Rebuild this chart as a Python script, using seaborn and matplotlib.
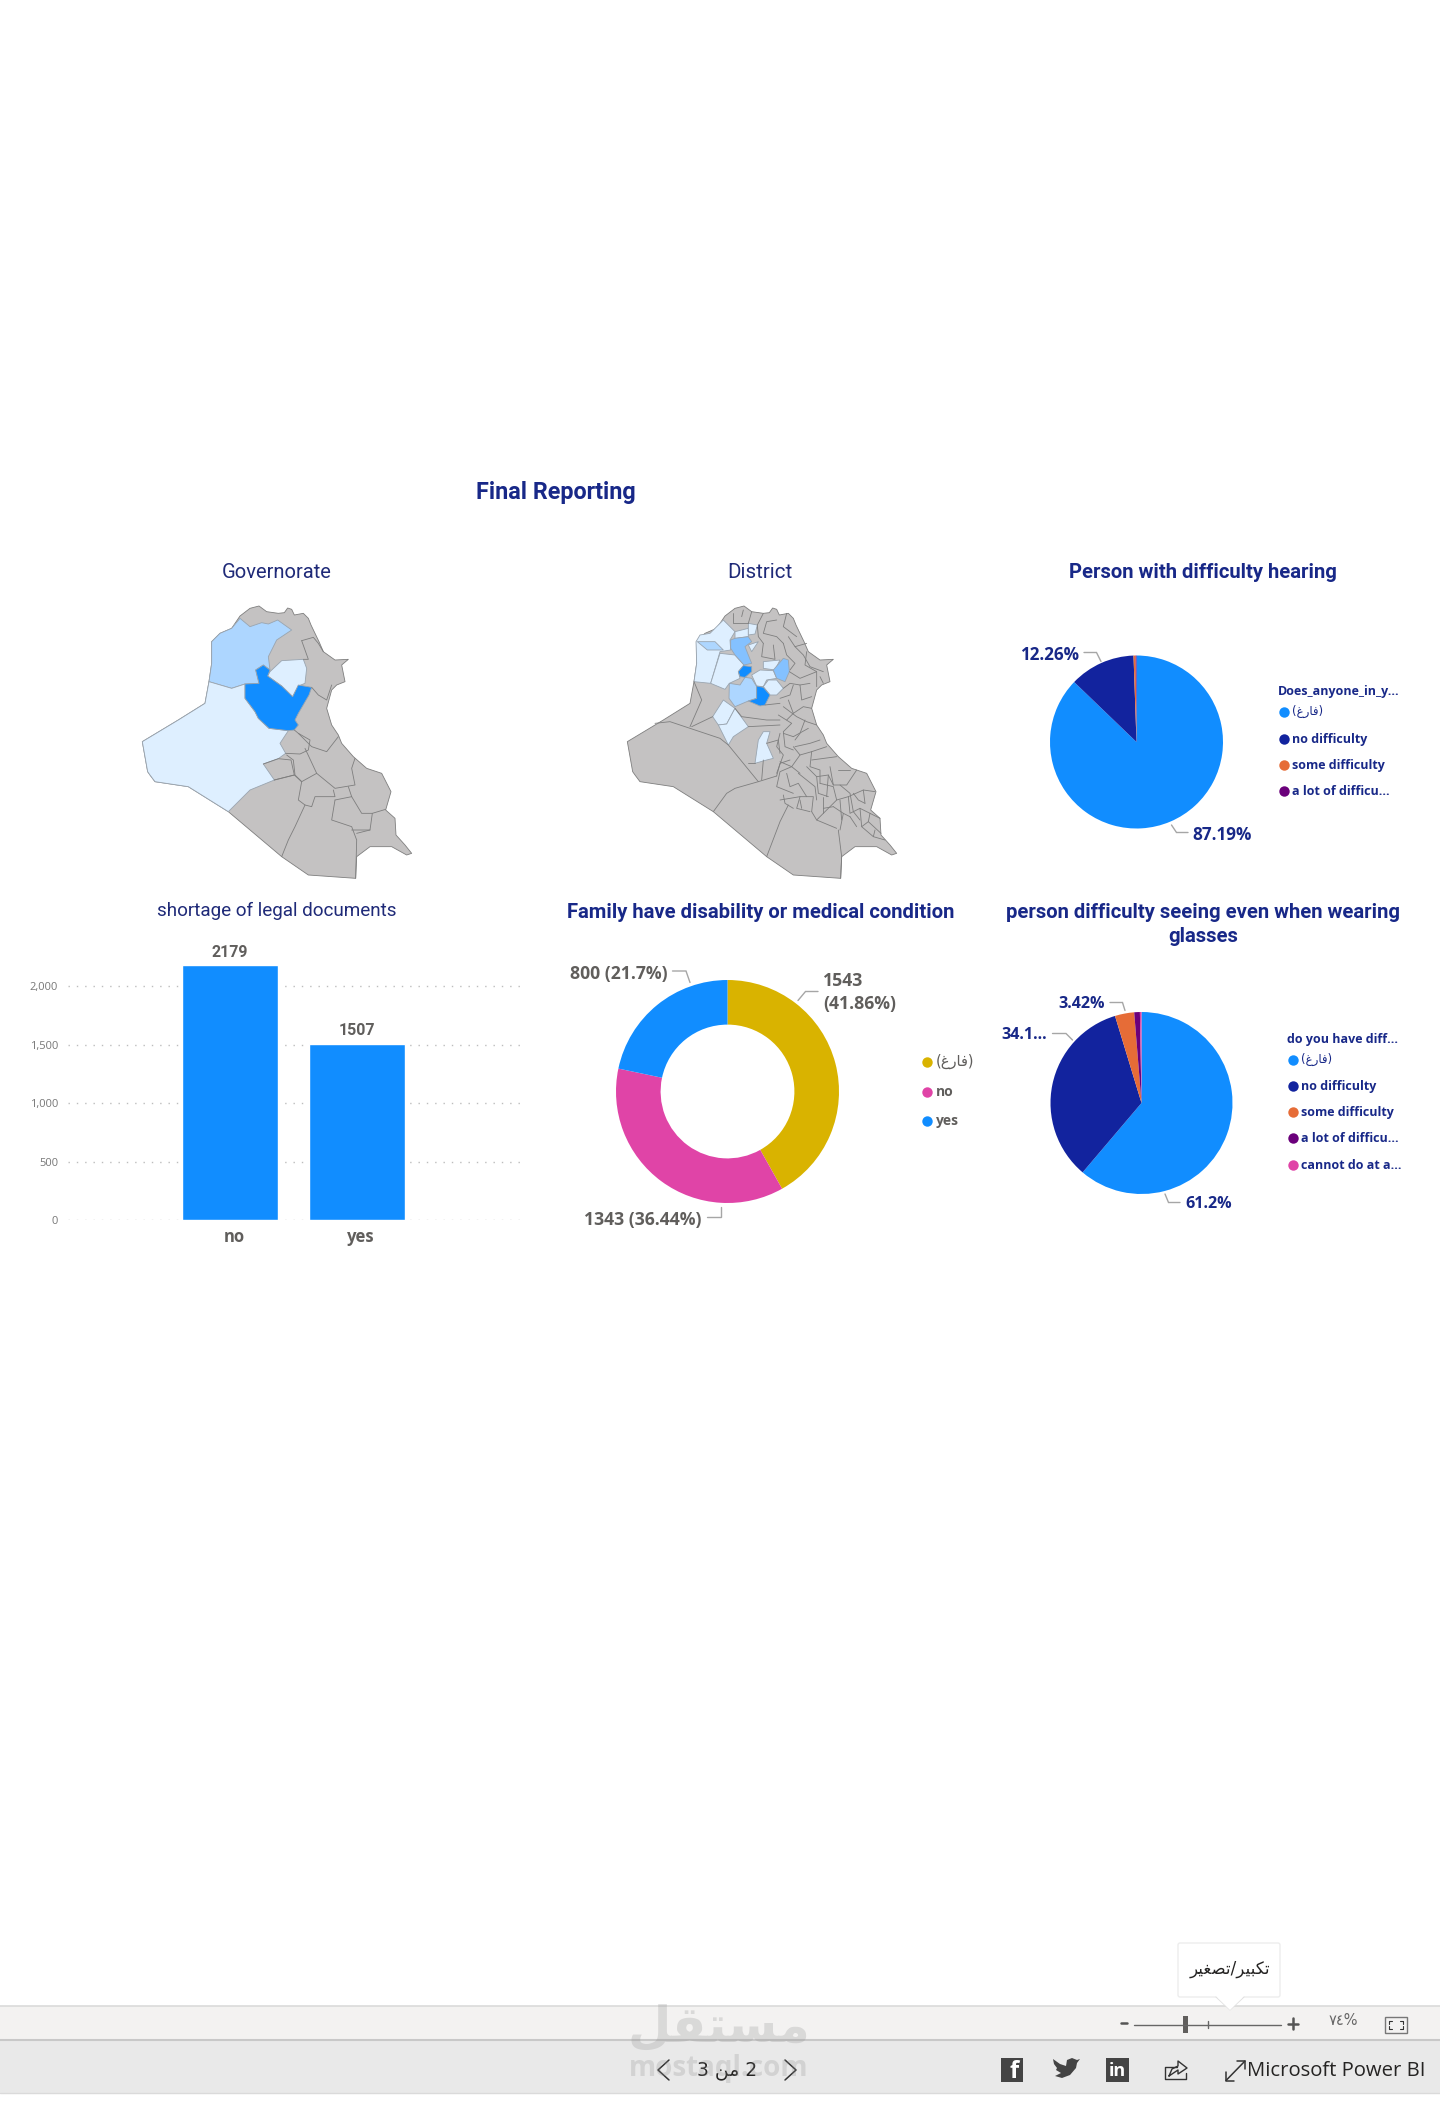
import matplotlib
matplotlib.use("Agg")
import matplotlib.pyplot as plt
from matplotlib.patches import Rectangle, FancyBboxPatch
from matplotlib.transforms import ScaledTranslation
import seaborn as sns

BLUE = '#118DFF'
NAVY = '#12239E'
TITLE_NAVY = '#182888'
ORANGE = '#E66C37'
PURPLE = '#6B007B'
PINK = '#E044A7'
GOLD = '#D9B300'
GREY_TXT = '#605E5C'
MAP_GREY = '#C4C2C2'
MAP_EDGE = '#7E7E7E'
TINT1 = '#DEEFFF'
TINT2 = '#ADD6FF'
TINT3 = '#84C1FF'

# arabic is written as shaped presentation forms, left to right, matplotlib does not shape
EMPTY_AR = '(\uFECD\uFEAD\uFE8E\uFED3)'
ZOOM_AR = '\uFEAE\uFEF4\uFED0\uFEBC\uFE97/\uFEAE\uFEF4\uFE92\uFEDC\uFE97'
PAGE_AR = '3 \uFEE6\uFEE3 2'
BRAND_AR = '\uFEDE\uFED8\uFE98\uFEB4\uFEE3'

# bar chart
doc_categories = ['no', 'yes']
doc_values = [2179, 1507]
doc_ticks = [0, 500, 1000, 1500, 2000]

# pies
hearing_labels = [EMPTY_AR, 'no difficulty', 'some difficulty', 'a lot of difficu...']
hearing_values = [87.19, 12.26, 0.4, 0.15]
hearing_colors = [BLUE, NAVY, ORANGE, PURPLE]

family_labels = [EMPTY_AR, 'no', 'yes']
family_values = [1543, 1343, 800]
family_colors = [GOLD, PINK, BLUE]

seeing_labels = [EMPTY_AR, 'no difficulty', 'some difficulty', 'a lot of difficu...', 'cannot do at a...']
seeing_values = [61.2, 34.1, 3.42, 1.0, 0.28]
seeing_colors = [BLUE, NAVY, ORANGE, PURPLE, PINK]

# map outlines (3x crop coordinates)
iraq_outline = [(315, 48), (345, 25), (372, 18), (395, 35), (430, 40), (448, 38), (458, 24), (470, 28), (478, 45),
                (505, 40), (520, 55), (528, 75), (540, 100), (552, 125), (565, 155), (600, 180), (640, 178), (620, 195),
                (630, 245), (605, 255), (590, 270), (575, 325), (590, 375), (610, 405), (620, 430), (655, 470),
                (695, 505), (740, 520), (768, 575), (752, 630), (780, 655), (783, 705), (810, 735), (830, 760),
                (815, 765), (770, 740), (705, 740), (665, 770), (662, 835), (520, 825), (440, 770), (280, 635),
                (160, 560), (60, 545), (45, 525), (38, 515), (22, 425), (130, 360), (210, 310), (222, 245), (230, 190),
                (230, 125), (255, 100), (290, 85)]

gov_regions = [
    (TINT2, [(230, 125), (255, 100), (290, 85), (315, 55), (345, 80), (380, 68), (400, 72), (428, 60), (470, 90),
             (425, 120), (400, 170), (405, 210), (385, 195), (362, 210), (372, 250), (330, 252), (290, 265), (222, 245),
             (230, 190)]),
    (TINT1, [(222, 245), (290, 265), (330, 252), (330, 295), (360, 335), (370, 355), (402, 385), (460, 392), (435, 430),
             (452, 460), (430, 476), (385, 492), (418, 540), (345, 570), (280, 635), (160, 560), (60, 545), (45, 525),
             (38, 515), (22, 425), (130, 360), (210, 310)]),
    (TINT1, [(405, 215), (440, 182), (505, 178), (515, 205), (510, 250), (490, 258), (473, 290), (440, 258), (398, 228)]),
    (BLUE, [(362, 210), (385, 195), (405, 210), (398, 228), (440, 258), (473, 290), (490, 255), (530, 262), (522, 285),
            (490, 340), (480, 360), (490, 375), (478, 390), (460, 392), (402, 385), (370, 355), (360, 335), (330, 295),
            (330, 252), (372, 250)]),
]
gov_lines = [
    [(500, 122), (535, 112), (550, 130), (565, 155)],
    [(500, 122), (520, 178), (505, 178)],
    [(530, 262), (550, 285), (575, 300), (590, 255)],
    [(478, 390), (490, 400), (525, 420), (520, 450), (495, 462), (452, 460)],
    [(490, 400), (530, 440), (575, 455), (610, 410)],
    [(510, 445), (545, 520), (600, 565), (660, 555), (650, 505), (660, 475)],
    [(455, 465), (475, 480), (480, 525), (500, 545), (545, 520)],
    [(385, 492), (430, 476), (468, 480), (478, 525), (418, 540)],
    [(418, 540), (478, 525), (500, 545), (490, 600), (510, 615), (480, 680), (460, 720), (440, 770)],
    [(510, 615), (530, 620), (540, 590), (600, 590), (595, 570)],
    [(600, 600), (590, 660), (650, 680), (665, 720), (662, 835)],
    [(650, 590), (680, 640), (712, 640), (705, 690), (650, 690)],
    [(712, 640), (752, 628)],
    [(640, 560), (650, 590), (600, 600)],
    [(705, 690), (665, 700)],
]

district_regions = [
    (TINT1, [(222, 245), (230, 190), (228, 125), (240, 105), (270, 100), (310, 60), (345, 95), (330, 120), (332, 150),
             (300, 155), (272, 250)]),
    (TINT2, [(232, 125), (285, 125), (310, 150), (262, 150)]),
    (TINT1, [(272, 250), (300, 160), (345, 165), (372, 195), (355, 215), (360, 235), (328, 250), (315, 268)]),
    (TINT1, [(345, 95), (385, 85), (385, 110), (345, 115)]),
    (TINT1, [(385, 70), (412, 75), (405, 102), (385, 105)]),
    (TINT1, [(385, 135), (415, 125), (395, 155)]),
    (TINT1, [(430, 185), (480, 180), (465, 210), (430, 205)]),
    (TINT1, [(395, 225), (420, 210), (460, 212), (470, 235), (440, 240), (430, 260), (410, 258)]),
    (TINT1, [(430, 260), (445, 240), (470, 240), (490, 265), (470, 285), (450, 285)]),
    (TINT1, [(278, 350), (310, 300), (345, 325), (320, 372), (295, 375)]),
    (TINT1, [(295, 375), (320, 372), (345, 325), (385, 380), (340, 410), (325, 435)]),
    (TINT1, [(405, 490), (415, 420), (430, 395), (450, 395), (440, 430), (460, 475), (440, 480)]),
    (TINT3, [(332, 120), (345, 115), (385, 110), (395, 125), (375, 140), (395, 190), (372, 195), (345, 165), (332, 145)]),
    (TINT3, [(460, 210), (490, 175), (505, 180), (508, 215), (495, 245), (470, 235)]),
    (TINT2, [(328, 250), (360, 255), (375, 232), (395, 235), (410, 260), (410, 295), (385, 303), (345, 320), (327, 295)]),
    (BLUE, [(355, 215), (370, 197), (395, 200), (395, 215), (375, 232), (360, 230)]),
    (BLUE, [(385, 303), (410, 295), (410, 258), (430, 262), (450, 285), (435, 315), (420, 318)]),
]
district_lines = [
    [(105, 370), (150, 365), (300, 415), (325, 435), (415, 545), (470, 528)],
    [(210, 380), (245, 300), (222, 245)], [(215, 380), (278, 350)],
    [(280, 635), (320, 580), (345, 565), (415, 545)], [(440, 770), (480, 665), (505, 615)],
    [(655, 690), (665, 770), (662, 835)], [(345, 325), (365, 350), (440, 360), (480, 360)],
    [(385, 380), (480, 375)], [(435, 315), (480, 310)], [(405, 490), (385, 490)], [(425, 540), (430, 480)],
    [(340, 40), (340, 70), (385, 70)], [(370, 30), (365, 50)], [(395, 35), (385, 70)],
    [(430, 40), (412, 75), (415, 110), (430, 130)], [(470, 60), (440, 65), (430, 100), (470, 110), (490, 130)],
    [(500, 40), (490, 80), (530, 110)], [(505, 110), (525, 140), (560, 130)],
    [(430, 130), (425, 170), (465, 178), (460, 135)], [(490, 130), (500, 165), (525, 190), (510, 210)],
    [(525, 140), (550, 165), (570, 200), (610, 215)], [(560, 155), (555, 195), (590, 215), (590, 260)],
    [(508, 215), (540, 235), (590, 215)], [(490, 265), (510, 250), (540, 255), (570, 250)],
    [(480, 295), (510, 285), (520, 255)], [(505, 300), (520, 340), (550, 320), (575, 325)],
    [(540, 255), (545, 300), (575, 290)], [(490, 320), (530, 350), (560, 365), (590, 375)],
    [(475, 345), (515, 370), (490, 395), (495, 440), (520, 450)], [(525, 440), (570, 430), (600, 420)],
    [(520, 410), (565, 385)], [(520, 440), (540, 465), (515, 500), (480, 485)],
    [(540, 465), (575, 455), (620, 440)], [(575, 480), (650, 470)], [(655, 510), (690, 510)],
    [(575, 455), (570, 500), (600, 510), (600, 550)], [(630, 500), (640, 555), (680, 555), (710, 510)],
    [(660, 555), (690, 580), (700, 635)], [(540, 520), (515, 500), (480, 515), (470, 560), (520, 580)],
    [(535, 520), (585, 560), (590, 600)], [(480, 600), (540, 590), (580, 590), (575, 635)],
    [(540, 600), (545, 625)], [(600, 550), (640, 560), (650, 600), (610, 640), (590, 660), (650, 685)],
    [(650, 600), (685, 590), (730, 570), (765, 575)], [(685, 590), (690, 640), (720, 625), (780, 655)],
    [(610, 625), (640, 620)], [(670, 640), (660, 690)], [(720, 625), (725, 680), (745, 665), (783, 700)],
    [(725, 680), (760, 710), (795, 720)], [(690, 650), (710, 680)], [(700, 580), (715, 600), (735, 610)],
    [(480, 400), (470, 440), (490, 465), (470, 520)], [(440, 430), (475, 420), (480, 460)],
    [(470, 528), (480, 490), (510, 480)], [(500, 520), (510, 560), (535, 550), (560, 590)],
    [(560, 500), (590, 530), (625, 525), (640, 555)], [(590, 530), (595, 580), (625, 590)], [(625, 525), (620, 590)],
    [(660, 600), (665, 660)], [(540, 590), (530, 625), (570, 635)], [(575, 635), (590, 660)], [(610, 590), (610, 640)],
    [(640, 620), (670, 640), (690, 650)], [(700, 635), (720, 660)], [(735, 610), (730, 570)], [(750, 640), (745, 665)],
    [(765, 690), (760, 710)], [(490, 585), (495, 610), (520, 625)], [(600, 230), (610, 250)], [(520, 340), (500, 360)],
    [(555, 360), (540, 400), (525, 420)], [(490, 400), (520, 410)],
]

sns.set_theme(style="white")
plt.rcParams['font.family'] = ['Roboto', 'DejaVu Sans']

W, H = 1440, 2126
fig = plt.figure(figsize=(W / 100, H / 100), dpi=100, facecolor='white')

# page axes in picture pixels, for the report furniture
page = fig.add_axes([0, 0, 1, 1])
page.set_xlim(0, W)
page.set_ylim(H, 0)
page.axis('off')


def px_axes(left, top, right, bottom):
    return fig.add_axes([left / W, 1 - bottom / H, (right - left) / W, (bottom - top) / H])


def txt(x, y, s, size=10, color=TITLE_NAVY, weight='normal', ha='center', va='center', family=None, **kw):
    page.text(x, y + 1.5, s, fontsize=size, color=color, fontweight=weight, ha=ha, va=va,
              family=family if family else ['Roboto', 'DejaVu Sans'], **kw)


def leader(points):
    page.plot([p[0] for p in points], [p[1] for p in points], color='#A6A6A6', lw=1, solid_joinstyle='miter')


def draw_map(x0, y0, regions, lines):
    conv = lambda pts: ([x0 + p[0] / 3 for p in pts], [y0 + p[1] / 3 for p in pts])
    xs, ys = conv(iraq_outline)
    page.fill(xs, ys, facecolor=MAP_GREY, edgecolor=MAP_EDGE, lw=0.6, joinstyle='round')
    for line in lines:
        xs, ys = conv(line)
        page.plot(xs, ys, color=MAP_EDGE, lw=0.6, solid_joinstyle='round')
    for col, pts in regions:
        xs, ys = conv(pts)
        page.fill(xs, ys, facecolor=col, edgecolor='#9AA5B0', lw=0.6, joinstyle='round')


def draw_pie(cx, cy, r, values, colors, hole=None):
    ax = px_axes(cx - r * 1.05, cy - r * 1.05, cx + r * 1.05, cy + r * 1.05)
    props = {'linewidth': 0}
    if hole:
        props['width'] = hole
    ax.pie(values, colors=colors, startangle=90, counterclock=False, radius=1, wedgeprops=props)
    ax.set_xlim(-1.05, 1.05)
    ax.set_ylim(-1.05, 1.05)


def draw_legend(title, x_mark, x_text, ys, labels, colors, txt_color, size=9, ar_size=8.5):
    for i, (y, lab, col) in enumerate(zip(ys, labels, colors)):
        page.plot([x_mark], [y], 'o', ms=7.5, color=col, mec='none')
        if lab == EMPTY_AR:
            txt(x_text, y - 2.5, lab, ar_size, txt_color, ha='left', family=['DejaVu Sans'])
        else:
            txt(x_text, y - 1, lab, size, txt_color, 'bold', ha='left', family=['Open Sans'])
    if title:
        txt(x_mark - 6, ys[0] - 22, title, size, txt_color, 'bold', ha='left', family=['Open Sans'])


# titles
txt(556, 491.5, 'Final Reporting', 16.8, TITLE_NAVY, 'bold')
txt(277, 571.5, 'Governorate', 14.5, '#1F2A78')
txt(760, 571.5, 'District', 14.8, '#1F2A78')
txt(1203, 571.5, 'Person with difficulty hearing', 14.6, TITLE_NAVY, 'bold')
txt(277, 909, 'shortage of legal documents', 13.6, '#1F2A78')
txt(760.5, 910.5, 'Family have disability or medical condition', 14.6, TITLE_NAVY, 'bold')
txt(1203, 911.5, 'person difficulty seeing even when wearing', 14.6, TITLE_NAVY, 'bold')
txt(1203, 935, 'glasses', 14.6, TITLE_NAVY, 'bold')

# maps
draw_map(135, 600, gov_regions, gov_lines)
draw_map(620, 600, district_regions, district_lines)

# bar chart
ax_bar = px_axes(68, 936, 522, 1220)
sns.barplot(x=doc_categories, y=doc_values, color=BLUE, saturation=1, width=0.76, ax=ax_bar, zorder=3)
ax_bar.set_xlim(-1.276, 2.3)
ax_bar.set_ylim(0, 2430)
ax_bar.set_yticks(doc_ticks)
ax_bar.set_yticklabels(['{:,}'.format(t) for t in doc_ticks], fontsize=8, color='#777777', family=['Open Sans'])
ax_bar.yaxis.grid(True, linestyle=(0, (1, 5)), color='#BDBDBD', lw=1)
ax_bar.set_axisbelow(True)
ax_bar.tick_params(axis='y', length=0, pad=7)
ax_bar.tick_params(axis='x', length=0, pad=6)
ax_bar.patch.set_alpha(0)
for lbl in ax_bar.get_xticklabels():
    lbl.set_fontsize(12)
    lbl.set_fontweight('bold')
    lbl.set_color(GREY_TXT)
    lbl.set_family(['Open Sans'])
    lbl.set_transform(lbl.get_transform() + ScaledTranslation(4 / 100, 0, fig.dpi_scale_trans))
sns.despine(ax=ax_bar, left=True, bottom=True)
for p, v in zip(ax_bar.patches, doc_values):
    ax_bar.annotate(str(v), (p.get_x() + p.get_width() / 2, v), xytext=(0, 4), textcoords='offset points',
                    ha='center', va='bottom', fontsize=11.5, fontweight='bold', color=GREY_TXT)

# hearing pie
draw_pie(1136.5, 742, 86.5, hearing_values, hearing_colors)
txt(1079, 654, '12.26%', 12.3, TITLE_NAVY, 'bold', ha='right', family=['Open Sans'])
txt(1192.5, 833, '87.19%', 12.3, TITLE_NAVY, 'bold', ha='left', family=['Open Sans'])
leader([(1084, 652.5), (1096.5, 652.5), (1101, 661.5)])
leader([(1171.5, 825), (1176.5, 832.5), (1188, 832.5)])
draw_legend('Does_anyone_in_y...', 1284, 1292, [712, 739, 765, 791], hearing_labels, hearing_colors, TITLE_NAVY)

# family donut
draw_pie(727.5, 1091.5, 111.5, family_values, family_colors, hole=0.4)
txt(668, 973, '800 (21.7%)', 12.7, GREY_TXT, 'bold', ha='right', family=['Open Sans'])
txt(823, 980, '1543', 12.7, GREY_TXT, 'bold', ha='left', family=['Open Sans'])
txt(823, 1003, '(41.86%)', 12.7, GREY_TXT, 'bold', ha='left', family=['Open Sans'])
txt(702, 1218, '1343 (36.44%)', 12.7, GREY_TXT, 'bold', ha='right', family=['Open Sans'])
leader([(672.5, 971), (686, 971), (690, 982.5)])
leader([(818, 991.5), (805.5, 991.5), (798, 1000.5)])
leader([(707, 1217), (720.5, 1217), (720.5, 1206.5)])
draw_legend(None, 927, 936, [1062, 1092, 1121], family_labels, family_colors, GREY_TXT, size=10, ar_size=10.5)

# seeing pie
draw_pie(1141.5, 1103, 91, seeing_values, seeing_colors)
txt(1105, 1003, '3.42%', 11.6, TITLE_NAVY, 'bold', ha='right', family=['Open Sans'])
txt(1047.5, 1033.5, '34.1...', 11.6, TITLE_NAVY, 'bold', ha='right', family=['Open Sans'])
txt(1185, 1202, '61.2%', 11.6, TITLE_NAVY, 'bold', ha='left', family=['Open Sans'])
leader([(1110, 1002.5), (1122.5, 1002.5), (1125, 1010.5)])
leader([(1052.5, 1033.5), (1066, 1033.5), (1072.5, 1040)])
leader([(1165, 1194), (1168.5, 1202.5), (1180, 1202.5)])
draw_legend('do you have diff...', 1293, 1301, [1060, 1086, 1112, 1138, 1165], seeing_labels, seeing_colors, TITLE_NAVY)

# toolbars
page.add_patch(Rectangle((0, 2006), W, 33, fc='#F3F2F1', ec='none'))
page.add_patch(Rectangle((0, 2040), W, 53, fc='#E9E9E9', ec='none'))
page.plot([0, W], [2006, 2006], color='#DADADA', lw=1.2)
page.plot([0, W], [2039.5, 2039.5], color='#C8C8C8', lw=1.5)
page.plot([0, W], [2093, 2093], color='#DADADA', lw=1)

# zoom slider
page.plot([1134, 1281], [2024.5, 2024.5], color='#666666', lw=1)
page.add_patch(Rectangle((1182.5, 2016), 5, 17, fc='#605E5C', ec='none'))
page.plot([1208, 1208], [2021, 2028], color='#666666', lw=1)
page.plot([1121, 1127], [2023, 2023], color='#555555', lw=1.8)
page.plot([1288, 1298, ], [2023.5, 2023.5], color='#555555', lw=1.8)
page.plot([1293, 1293], [2018, 2029], color='#555555', lw=1.8)
txt(1343, 2019, '\u0667\u0664%', 10.5, '#666666', family=['DejaVu Sans'])
page.add_patch(Rectangle((1385, 2017), 22, 16, fc='none', ec='#777777', lw=1))
for x, y, dx, dy in [(1389, 2021, 1, 1), (1403, 2021, -1, 1), (1389, 2029, 1, -1), (1403, 2029, -1, -1)]:
    page.plot([x + 3 * dx, x, x], [y, y, y + 3 * dy], color='#333333', lw=0.8)

# tooltip
page.add_patch(FancyBboxPatch((1180, 1945), 98, 50, boxstyle='round,pad=2', fc='white', ec='#EDEDED', lw=1, zorder=4))
page.fill([1216, 1244, 1230], [1996, 1996, 2010], fc='white', ec='none', zorder=5)
page.plot([1216, 1230, 1244], [1997, 2010, 1997], color='#E2E2E2', lw=0.8, zorder=4)
txt(1230, 1968, ZOOM_AR, 12, '#252423', family=['DejaVu Sans'], zorder=6)

# page navigation and share row
page.plot([669, 658, 669], [2060, 2070, 2080], color='#333333', lw=1.1)
page.plot([785, 796, 785], [2060, 2070, 2080], color='#333333', lw=1.1)
txt(727, 2069, PAGE_AR, 13.5, '#252423', family=['DejaVu Sans'])

page.add_patch(Rectangle((1000.5, 2058), 22.5, 24, fc='#444444', ec='none'))
txt(1014, 2071, 'f', 17, 'white', 'bold', family=['Open Sans'])
twitter_x = [1053, 1060, 1066, 1067, 1072, 1077, 1080, 1077, 1076, 1070, 1062, 1055, 1061, 1056, 1057, 1054]
twitter_y = [2059, 2064, 2066, 2060, 2058, 2060, 2059, 2063, 2068, 2075, 2078, 2076, 2073, 2070, 2068, 2064]
page.fill(twitter_x, twitter_y, fc='#444444', ec='none')
page.add_patch(Rectangle((1106, 2058), 23, 24, fc='#444444', ec='none'))
txt(1117.5, 2070, 'in', 13, 'white', 'bold', family=['Open Sans'])
page.plot([1177, 1165, 1165, 1186, 1186], [2067, 2067, 2079, 2079, 2073], color='#333333', lw=1)
page.plot([1169, 1172, 1178, 1178, 1187, 1178, 1178, 1169], [2076, 2069, 2066, 2061, 2068, 2074, 2070, 2076], color='#333333', lw=1)
page.plot([1226, 1245], [2080.5, 2061], color='#333333', lw=1.1)
page.plot([1237, 1245, 1245], [2061, 2061, 2069], color='#333333', lw=1.1)
page.plot([1226, 1226, 1234], [2072, 2080.5, 2080.5], color='#333333', lw=1.1)
txt(1247, 2070, 'Microsoft Power BI', 14.6, '#252423', ha='left', family=['Open Sans'])

# watermark
txt(719, 2026, BRAND_AR, 36, '#8A8A8A', 'bold', family=['DejaVu Sans'], alpha=0.24, zorder=7)
txt(719, 2067, 'mostaql.com', 20, '#8A8A8A', 'bold', family=['Open Sans'], alpha=0.24, zorder=7)

fig.savefig('out.png', dpi=100)
